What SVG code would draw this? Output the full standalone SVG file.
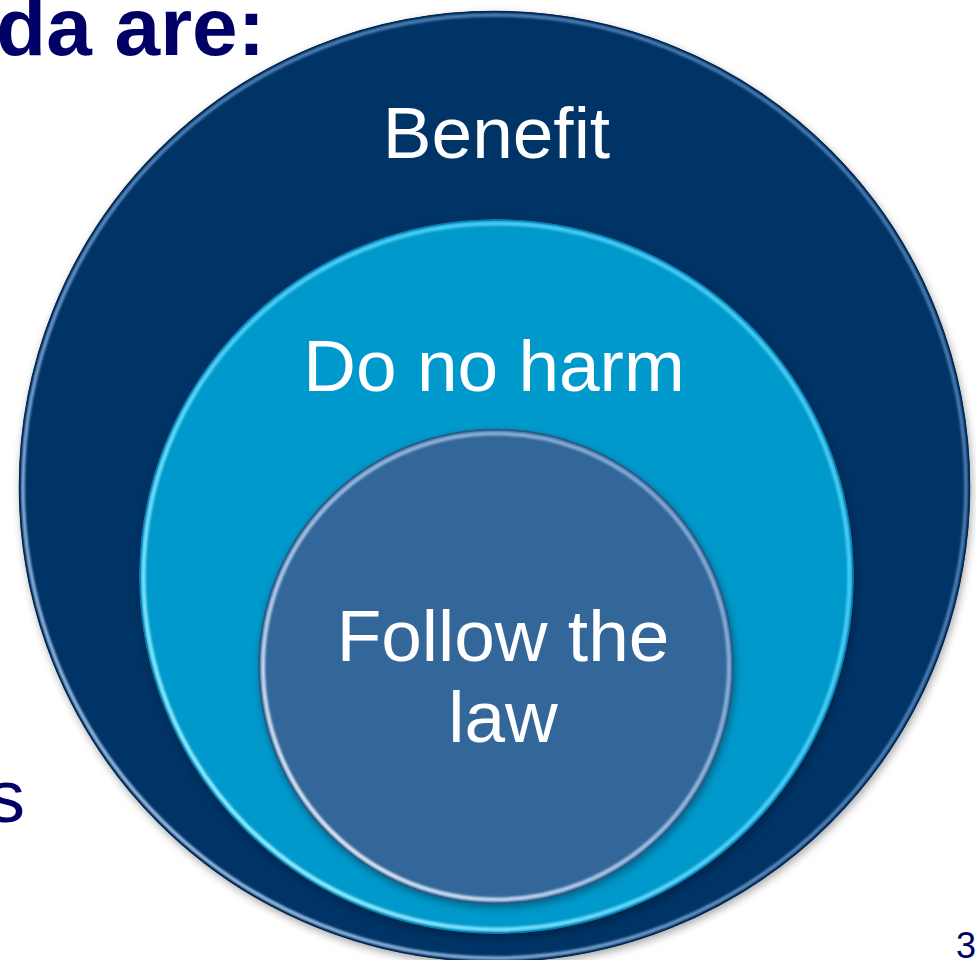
<svg xmlns="http://www.w3.org/2000/svg" width="976" height="960" viewBox="0 0 976 960">
<style>
  .lbl { font-family: "Liberation Sans", Arial, sans-serif; font-size: 73px; fill: #ffffff; text-anchor: middle; }
  .title { font-family: "Liberation Sans", Arial, sans-serif; fill: #000066; }
  .shadow { fill: #000000; fill-opacity: 0.35; filter: url(#blur4); }
  .edge { fill: none; stroke-width: 1.5; }
</style>
<defs>
  <filter id="blur4" x="-10%" y="-10%" width="120%" height="120%">
    <feGaussianBlur stdDeviation="4"/>
  </filter>
  <filter id="blur1" x="-5%" y="-5%" width="110%" height="110%">
    <feGaussianBlur stdDeviation="1"/>
  </filter>
  <linearGradient id="hlOuter" x1="0" y1="1" x2="1" y2="0">
    <stop offset="0" stop-color="#c4defa" stop-opacity="1"/>
    <stop offset="0.5" stop-color="#6f9fd6" stop-opacity="0.75"/>
    <stop offset="1" stop-color="#6f9fd6" stop-opacity="0.65"/>
  </linearGradient>
  <linearGradient id="hlMid" x1="0" y1="1" x2="1" y2="0">
    <stop offset="0" stop-color="#b5f8ff" stop-opacity="1"/>
    <stop offset="0.5" stop-color="#5fd8ff" stop-opacity="0.85"/>
    <stop offset="1" stop-color="#5fd8ff" stop-opacity="0.75"/>
  </linearGradient>
  <linearGradient id="hlIn" x1="0" y1="1" x2="1" y2="0">
    <stop offset="0" stop-color="#ffffff" stop-opacity="1"/>
    <stop offset="0.45" stop-color="#b9d6f5" stop-opacity="0.8"/>
    <stop offset="1" stop-color="#a9ccf2" stop-opacity="0.6"/>
  </linearGradient>
</defs>

<rect x="0" y="0" width="976" height="960" fill="#ffffff"/>

<g id="title-text">
  <text class="title" x="265" y="55" font-size="82" font-weight="bold" text-anchor="end">da are:</text>
  <text class="title" x="25" y="822" font-size="75" text-anchor="end">s</text>
  <text class="title" x="956" y="958" font-size="36">3</text>
</g>

<g id="node-benefit">
  <circle class="shadow" cx="496" cy="490" r="475.5"/>
  <circle cx="494.5" cy="486.5" r="475.5" fill="#003366"/>
  <circle cx="494.5" cy="486.5" r="471.5" fill="none" stroke="url(#hlOuter)" stroke-width="3.5" filter="url(#blur1)"/>
  <circle class="edge" cx="494.5" cy="486.5" r="475" stroke="#02284f"/>
  <text class="lbl" x="496.5" y="158">Benefit</text>
</g>

<g id="node-do-no-harm">
  <circle class="shadow" cx="498" cy="580" r="357"/>
  <circle cx="496.5" cy="576.5" r="357" fill="#0099cc"/>
  <circle cx="496.5" cy="576.5" r="353" fill="none" stroke="url(#hlMid)" stroke-width="4" filter="url(#blur1)"/>
  <circle class="edge" cx="496.5" cy="576.5" r="356.5" stroke="#0a7fb0"/>
  <text class="lbl" x="494" y="391">Do no harm</text>
</g>

<g id="node-follow-the-law">
  <circle class="shadow" cx="497.5" cy="670" r="237.5"/>
  <circle cx="496" cy="666.5" r="237.5" fill="#336699"/>
  <circle cx="496" cy="666.5" r="233" fill="none" stroke="url(#hlIn)" stroke-width="4" filter="url(#blur1)"/>
  <circle class="edge" cx="496" cy="666.5" r="237" stroke="#2a5784"/>
  <text class="lbl" x="503" y="661">Follow the</text>
  <text class="lbl" x="503" y="742">law</text>
</g>

<g id="connectors"/>
</svg>
